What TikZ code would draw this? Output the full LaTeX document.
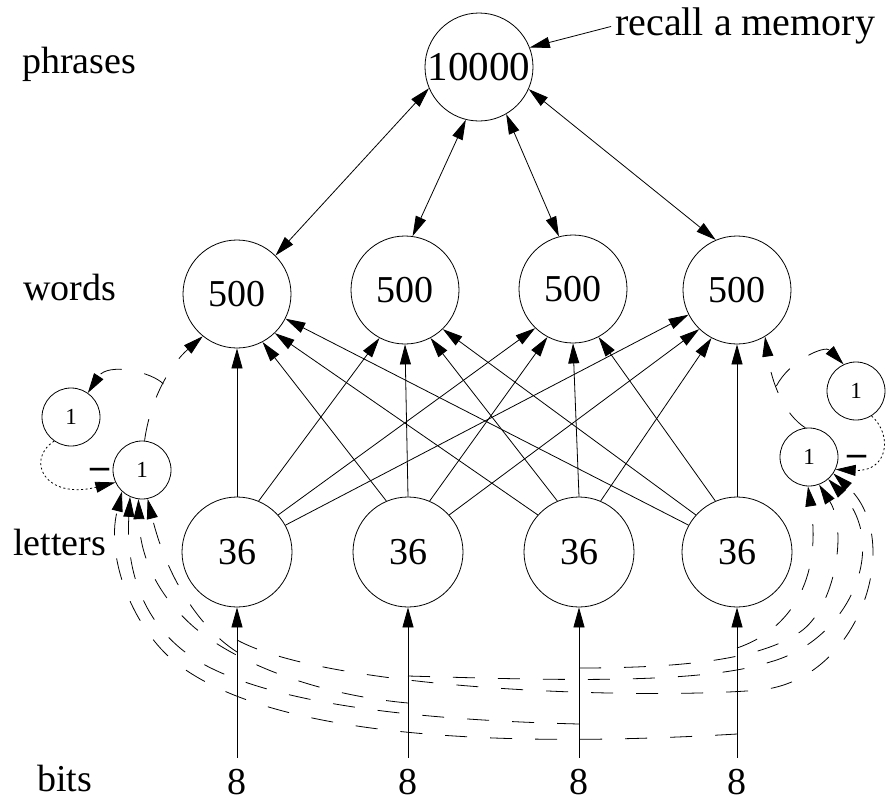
\documentclass[tikz,border=0pt]{standalone}
\usepackage{fontspec}
\setmainfont{Liberation Serif}
\usetikzlibrary{arrows.meta}
\begin{document}
\begin{tikzpicture}[x=1pt,y=-1pt,
  every node/.style={inner sep=0pt},
  big/.style={circle,draw,line width=0.8pt,inner sep=0pt,minimum size=108pt,font=\fontsize{38}{40}\selectfont},
  small/.style={circle,draw,line width=0.8pt,inner sep=0pt,minimum size=58pt,font=\fontsize{23}{25}\selectfont},
  lab/.style={font=\fontsize{38}{40}\selectfont,anchor=base west},
  num/.style={font=\fontsize{38}{40}\selectfont,anchor=base},
  minus/.style={font=\fontsize{38}{40}\selectfont\bfseries},
  conn/.style={line width=0.8pt,-{Triangle[length=20pt,width=11pt]}},
  bidir/.style={line width=0.8pt,{Triangle[length=20pt,width=11pt]}-{Triangle[length=20pt,width=11pt]}},
  dsh/.style={conn,dash pattern=on 22pt off 23pt},
  dtt/.style={conn,dash pattern=on 2pt off 2.5pt}
]
\useasboundingbox (0,0) rectangle (886,801);

% labels
\node[lab] (phr) at (22,73) {phrases};
\node[lab] (wor) at (23,300) {words};
\node[lab] (let) at (13,555) {letters};
\node[lab] (bit) at (37,791) {bits};
\node[lab,font=\fontsize{40}{42}\selectfont] (rec) at (615,35) {recall a memory};

% main nodes
\node[big,font=\fontsize{41}{43}\selectfont] (top) at (479,67) {10000};
\node[big] (w1) at (237,294) {500};
\node[big] (w2) at (405,290) {500};
\node[big] (w3) at (573,289) {500};
\node[big] (w4) at (737,290) {500};
\node[big,minimum size=110pt] (l1) at (237,552) {36};
\node[big,minimum size=110pt] (l2) at (408,552) {36};
\node[big,minimum size=110pt] (l3) at (579,552) {36};
\node[big,minimum size=110pt] (l4) at (737,552) {36};
\node[num] (b1) at (237,794) {8};
\node[num] (b2) at (408,794) {8};
\node[num] (b3) at (579,794) {8};
\node[num] (b4) at (737,794) {8};

% small nodes
\node[small] (u1) at (71,417) {1};
\node[small] (s1) at (142,470) {1};
\node[minus] (m1) at (100,473) {–};
\node[small] (u2) at (856,391) {1};
\node[small] (s2) at (809,457) {1};
\node[minus] (m2) at (857,460) {–};

% recall arrow
\draw[conn,shorten <=4pt] (rec.west) -- (top.21);

% phrases <-> words
\draw[bidir] (top.203) -- (w1.45);
\draw[bidir] (top.256) -- (w2.82);
\draw[bidir] (top.300) -- (w3.105);
\draw[bidir] (top.336) -- (w4.113);

% letters -> words
\draw[conn] (l1.90) -- (w1.270);
\draw[conn] (l1.67) -- (w2.242);
\draw[conn] (l1.42) -- (w3.226);
\draw[conn] (l1.29) -- (w4.207);
\draw[conn] (l2.113) -- (w1.298);
\draw[conn] (l2.90) -- (w2.270);
\draw[conn] (l2.67) -- (w3.242);
\draw[conn] (l2.42) -- (w4.226);
\draw[conn] (l3.138) -- (w1.314);
\draw[conn] (l3.113) -- (w2.298);
\draw[conn] (l3.90) -- (w3.270);
\draw[conn] (l3.67) -- (w4.242);
\draw[conn] (l4.151) -- (w1.333);
\draw[conn] (l4.138) -- (w2.314);
\draw[conn] (l4.113) -- (w3.298);
\draw[conn] (l4.90) -- (w4.270);

% bits -> letters
\draw[conn,shorten <=11pt] (b1.north) -- (l1.south);
\draw[conn,shorten <=11pt] (b2.north) -- (l2.south);
\draw[conn,shorten <=11pt] (b3.north) -- (l3.south);
\draw[conn,shorten <=11pt] (b4.north) -- (l4.south);

% left oscillator
\draw[dtt] (u1.235) .. controls (25,460) and (45,500) .. (s1.205);
\draw[dsh] (s1.85) .. controls (150,400) and (170,365) .. (w1.231) coordinate[pos=0.5] (j1);
\draw[dsh] (j1) .. controls (152,372) and (108,362) .. (u1.55);

% right oscillator
\draw[dtt] (u2.302) .. controls (893,435) and (888,472) .. (s2.335);
\draw[dsh] (s2.97) .. controls (785,415) and (772,385) .. (w4.301) coordinate[pos=0.6] (j2);
\draw[dsh] (j2) .. controls (790,360) and (825,345) .. (u2.115);

% branch points on the bit lines
\coordinate (a1) at (237,652);
\coordinate (a2) at (408,703);
\coordinate (a3) at (579,724);
\coordinate (a4) at (737,734);
\coordinate (c1) at (237,640);
\coordinate (c2) at (408,676);
\coordinate (c3) at (579,668);
\coordinate (c4) at (737,648);

% to the left unit
\draw[dsh] (a4) .. controls (500,748) and (270,738) .. (175,662) .. controls (135,630) and (105,560) .. (s1.227);
\draw[dsh] (a3) .. controls (420,720) and (280,705) .. (205,665) .. controls (150,635) and (125,580) .. (s1.246);
\draw[dsh] (a2) .. controls (320,695) and (240,665) .. (195,628) .. controls (160,598) and (140,560) .. (s1.263);
\draw[dsh] (a1) .. controls (195,625) and (165,570) .. (s1.281);

% to the right unit
\draw[dsh] (c1) .. controls (330,690) and (640,700) .. (760,690) .. controls (860,680) and (905,540) .. (s2.326);
\draw[dsh] (c2) .. controls (550,680) and (700,685) .. (770,662) .. controls (850,640) and (890,545) .. (s2.311);
\draw[dsh] (c3) .. controls (680,668) and (760,660) .. (800,632) .. controls (835,608) and (848,530) .. (s2.290);
\draw[dsh] (c4) .. controls (790,630) and (822,580) .. (s2.268);
\end{tikzpicture}
\end{document}
